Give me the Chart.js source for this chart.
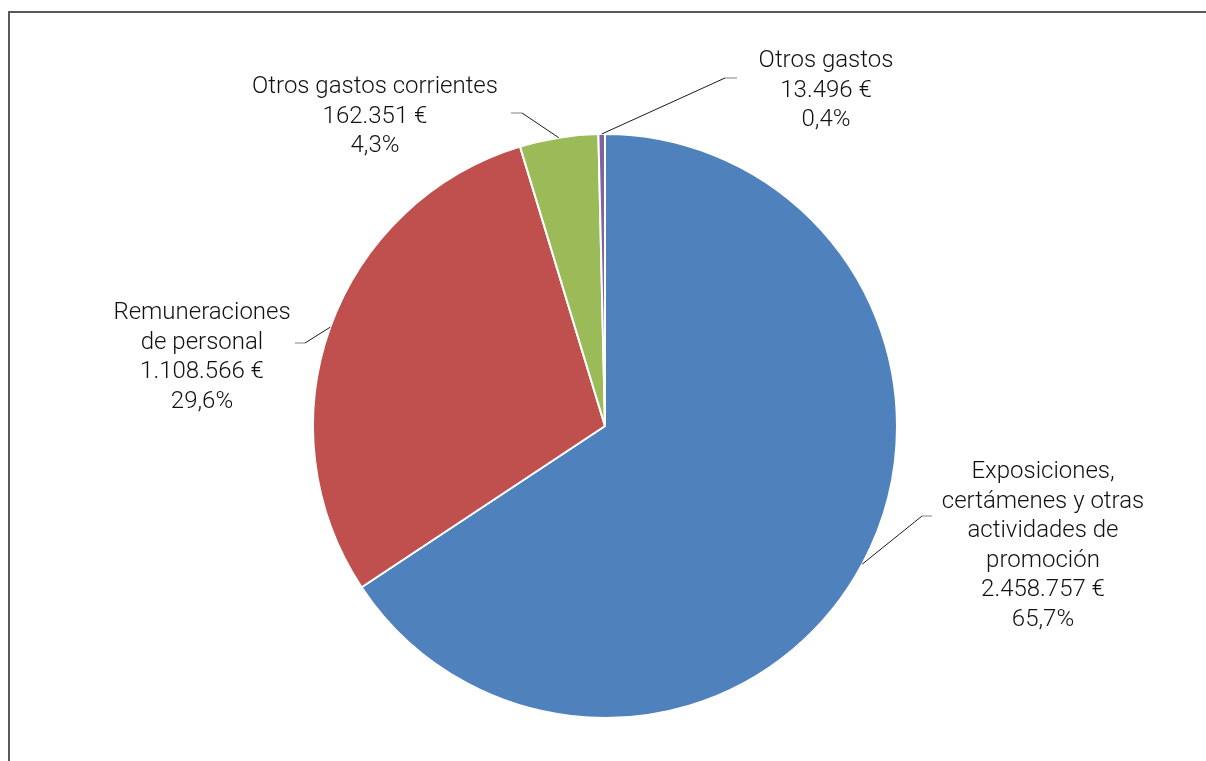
<!DOCTYPE html>
<html>
<head>
<meta charset="utf-8">
<script src="https://cdn.jsdelivr.net/npm/chart.js@4"></script>
<style>
    html, body { margin: 0; padding: 0; background: #fff; overflow: hidden; }
    #frame {
        position: absolute; left: 8px; top: 11px; width: 1300px; height: 900px;
        border-left: 2px solid #595959; border-top: 2px solid #595959;
    }
    #wrap { position: absolute; left: 0; top: 0; width: 1206px; height: 761px; }
</style>
</head>
<body>
<div id="frame"></div>
<div id="wrap"><canvas id="myChart"></canvas></div>
<script>
// Chart data
const categories = [
    ['Exposiciones,', 'certámenes y otras', 'actividades de', 'promoción'],
    ['Remuneraciones', 'de personal'],
    ['Otros gastos corrientes'],
    ['Otros gastos']
];
const amounts = [2458757, 1108566, 162351, 13496];
const colors = ['#4F81BD', '#C0504D', '#9BBB59', '#8064A2'];

// Label placement: elbow of the leader line, end of the leader, text centre and first line y
const placements = [
    { elbow: [922, 516], end: [932, 516], x: 1043, y: 472 },
    { elbow: [305, 343], end: [295, 343], x: 202, y: 313 },
    { elbow: [522, 113], end: [511, 113], x: 375, y: 87 },
    { elbow: [725, 78], end: [737, 78], x: 826, y: 61 }
];

function formatAmount(v) {
    return String(v).replace(/\B(?=(\d{3})+(?!\d))/g, '.') + ' €';
}

function formatPercent(v, total) {
    return (v / total * 100).toFixed(1).replace('.', ',') + '%';
}

// Draw labels with leader lines
const leaderLabels = {
    id: 'leaderLabels',
    afterDatasetsDraw(chart) {
        const ctx = chart.ctx;
        const meta = chart.getDatasetMeta(0);
        const total = amounts.reduce((a, b) => a + b, 0);

        meta.data.forEach((arc, i) => {
            const p = arc.getProps(['x', 'y', 'startAngle', 'endAngle', 'outerRadius'], true);
            const mid = (p.startAngle + p.endAngle) / 2;
            const ax = p.x + Math.cos(mid) * p.outerRadius;
            const ay = p.y + Math.sin(mid) * p.outerRadius;
            const pl = placements[i];

            ctx.save();
            ctx.strokeStyle = '#1a1a1a';
            ctx.lineWidth = 1;
            ctx.beginPath();
            ctx.moveTo(ax, ay);
            ctx.lineTo(pl.elbow[0], pl.elbow[1]);
            ctx.stroke();
            ctx.strokeStyle = '#808080';
            ctx.beginPath();
            ctx.moveTo(pl.elbow[0], pl.elbow[1]);
            ctx.lineTo(pl.end[0], pl.end[1]);
            ctx.stroke();

            const lines = categories[i].concat([formatAmount(amounts[i]), formatPercent(amounts[i], total)]);
            ctx.fillStyle = '#111111';
            ctx.font = '300 24px Roboto';
            ctx.textAlign = 'center';
            ctx.textBaseline = 'middle';
            lines.forEach((line, k) => {
                ctx.fillText(line, pl.x, pl.y + k * 29.6);
            });
            ctx.restore();
        });
    }
};

function init() {
    const ctx = document.getElementById('myChart').getContext('2d');
    new Chart(ctx, {
        type: 'pie',
        data: {
            labels: categories.map(c => c.join(' ')),
            datasets: [{
                data: amounts,
                backgroundColor: colors,
                borderColor: '#ffffff',
                borderWidth: 2
            }]
        },
        options: {
            responsive: true,
            maintainAspectRatio: false,
            animation: false,
            layout: { padding: { top: 133, bottom: 42, left: 4, right: 0 } },
            plugins: {
                legend: { display: false },
                tooltip: { enabled: false }
            }
        },
        plugins: [leaderLabels]
    });
}

document.addEventListener('DOMContentLoaded', init);
</script>
</body>
</html>
